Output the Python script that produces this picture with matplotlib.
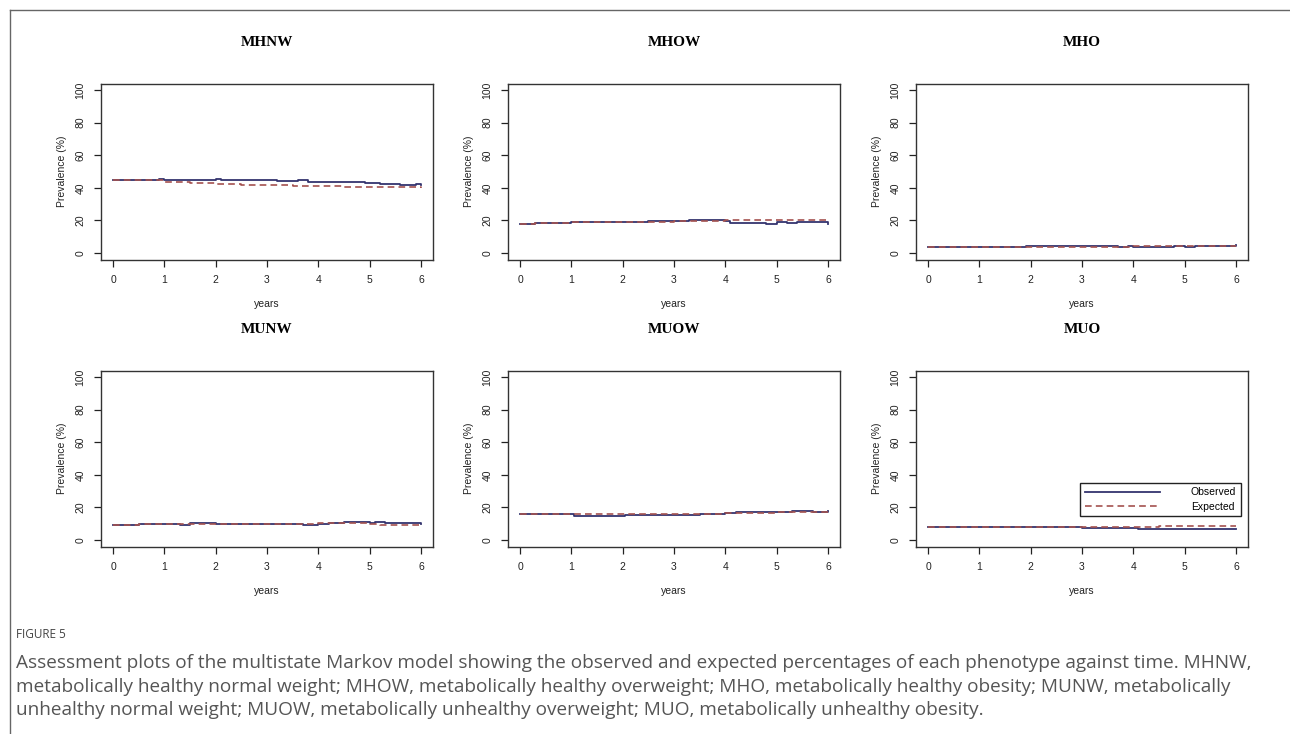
import matplotlib
matplotlib.use("Agg")
import matplotlib.pyplot as plt
from matplotlib.lines import Line2D

# ---- data ----
titles = ["MHNW", "MHOW", "MHO", "MUNW", "MUOW", "MUO"]

mhnw_obs_t = [0, 0.5, 0.7, 0.9, 1.0, 1.9, 2.0, 2.1, 2.2, 2.3, 3.0, 3.2, 3.6, 3.8, 4.0, 4.5, 4.9, 5.0, 5.2, 5.4, 5.6, 5.9, 6.0]
mhnw_obs_v = [45, 45, 44.5, 45.5, 45, 45, 45.5, 45, 44.5, 45, 44.8, 44, 44.5, 43.5, 43.5, 43.5, 43, 43.2, 42.5, 42.5, 42, 42.5, 42]
mhnw_exp_t = [0, 0.5, 1.0, 1.5, 2.0, 2.5, 3.0, 3.5, 4.0, 4.5, 5.0, 6.0]
mhnw_exp_v = [45, 44.5, 43.5, 43, 42.5, 42, 41.5, 41, 41, 40.5, 40.2, 40]

mhow_obs_t = [0, 0.3, 1.0, 2.0, 2.5, 3.0, 3.3, 3.8, 4.0, 4.1, 4.5, 4.8, 5.0, 5.2, 5.4, 5.9, 6.0]
mhow_obs_v = [18, 18.5, 19, 19.3, 19.6, 19.8, 20, 20.5, 19.5, 18.5, 18.5, 18, 18.8, 18.2, 18.8, 18.8, 17.5]
mhow_exp_t = [0, 0.3, 1.0, 2.0, 3.0, 4.0, 5.0, 6.0]
mhow_exp_v = [18, 18.5, 19, 19.3, 19.8, 20, 20.3, 20.5]

mho_obs_t = [0, 1.0, 1.9, 3.7, 3.9, 4.0, 4.8, 5.0, 5.2, 6.0]
mho_obs_v = [3.5, 3.8, 4.0, 3.8, 4.3, 3.8, 4.3, 3.6, 4.3, 4.8]
mho_exp_t = [0, 1.0, 2.0, 3.0, 4.0, 5.0, 6.0]
mho_exp_v = [3.5, 3.7, 3.8, 3.9, 4.0, 4.2, 4.3]

munw_obs_t = [0, 0.5, 1.0, 1.3, 1.5, 2.0, 3.0, 3.7, 4.0, 4.2, 4.5, 5.0, 5.1, 5.3, 5.9, 6.0]
munw_obs_v = [9.5, 9.8, 10, 9.5, 10.2, 9.8, 9.8, 9.2, 10, 10.5, 11, 10.5, 11, 10.5, 10.5, 10]
munw_exp_t = [0, 0.5, 1.0, 2.0, 3.0, 4.0, 5.0, 5.2, 6.0]
munw_exp_v = [9.5, 10, 10, 9.8, 9.8, 10.2, 9.8, 9.5, 9.5]

muow_obs_t = [0, 1.05, 2.0, 2.05, 3.0, 3.5, 3.9, 4.0, 4.2, 5.0, 5.3, 5.7, 6.0]
muow_obs_v = [16, 15, 14.5, 15.2, 15.5, 16, 16.2, 16.5, 17, 17.2, 17.8, 17.3, 17.8]
muow_exp_t = [0, 1.0, 2.0, 3.0, 4.0, 5.0, 6.0]
muow_exp_v = [16, 16, 16.2, 16.2, 16.5, 17, 17.5]

muo_obs_t = [0, 0.3, 0.8, 1.0, 2.0, 3.0, 4.0, 4.1, 5.0, 5.1, 6.0]
muo_obs_v = [8.2, 7.8, 8, 7.8, 7.8, 7.5, 7.2, 6.8, 6.5, 7.0, 7.0]
muo_exp_t = [0, 1.0, 2.0, 3.0, 4.0, 4.5, 5.0, 6.0]
muo_exp_v = [8.2, 8.2, 8.2, 8.2, 8.0, 8.5, 8.8, 8.8]

observed = [(mhnw_obs_t, mhnw_obs_v), (mhow_obs_t, mhow_obs_v), (mho_obs_t, mho_obs_v),
            (munw_obs_t, munw_obs_v), (muow_obs_t, muow_obs_v), (muo_obs_t, muo_obs_v)]
expected = [(mhnw_exp_t, mhnw_exp_v), (mhow_exp_t, mhow_exp_v), (mho_exp_t, mho_exp_v),
            (munw_exp_t, munw_exp_v), (muow_exp_t, muow_exp_v), (muo_exp_t, muo_exp_v)]

x_ticks = [0, 1, 2, 3, 4, 5, 6]
y_ticks = [0, 20, 40, 60, 80, 100]

caption_head = "FIGURE 5"
caption_body = ("Assessment plots of the multistate Markov model showing the observed and expected percentages of each phenotype against time. MHNW,\n"
                "metabolically healthy normal weight; MHOW, metabolically healthy overweight; MHO, metabolically healthy obesity; MUNW, metabolically\n"
                "unhealthy normal weight; MUOW, metabolically unhealthy overweight; MUO, metabolically unhealthy obesity.")

OBS_COLOR = "#34346e"
EXP_COLOR = "#a4524f"

W, H = 1290, 734
fig = plt.figure(figsize=(W / 100, H / 100), dpi=100)
fig.patch.set_facecolor("white")

lefts = [100.7, 507.7, 915.7]
tops = [83.5, 370.5]
aw, ah = 332.6, 176.0

for i in range(6):
    r, c = divmod(i, 3)
    ax = fig.add_axes([lefts[c] / W, 1 - (tops[r] + ah) / H, aw / W, ah / H])
    ot, ov = observed[i]
    et, ev = expected[i]
    ax.step(ot, ov, where="post", color=OBS_COLOR, lw=1.3, label="Observed")
    ax.step(et, ev, where="post", color=EXP_COLOR, lw=1.2, dashes=(4, 2.5), label="Expected")
    ax.set_xlim(-0.24, 6.24)
    ax.set_ylim(-4, 104)
    ax.set_xticks(x_ticks)
    ax.set_yticks(y_ticks)
    ax.set_yticklabels([str(v) for v in y_ticks], rotation=90, va="center")
    ax.tick_params(direction="out", length=5, width=0.9, labelsize=7.5, colors="#222222", pad=6)
    for s in ax.spines.values():
        s.set_linewidth(1.0)
        s.set_color("#333333")
    ax.set_xlabel("years", fontsize=7.5, family="Liberation Sans", labelpad=10, color="#222222")
    ax.set_ylabel("Prevalence (%)", fontsize=7.5, family="Liberation Sans", labelpad=6, color="#222222")
    for lab in ax.get_xticklabels() + ax.get_yticklabels():
        lab.set_family("Liberation Sans")
    ax.set_title(titles[i], fontsize=11, family="Liberation Serif", fontweight="bold", pad=27)
    if i == 5:
        h = [Line2D([], [], color=OBS_COLOR, lw=1.3),
             Line2D([], [], color=EXP_COLOR, lw=1.2, dashes=(4, 2.5))]
        leg = ax.legend(h, ["Observed", "Expected"], loc="upper right",
                        bbox_to_anchor=(0.978, 0.362), borderaxespad=0,
                        fancybox=False, framealpha=1, edgecolor="#222222",
                        prop={"family": "Liberation Sans", "size": 7.5},
                        handlelength=7.2, handletextpad=3.0, borderpad=0.45,
                        labelspacing=0.4)
        leg.get_frame().set_linewidth(1.0)

# frame lines around figure panel
fig.add_artist(Line2D([10 / W, 10 / W], [0, 1 - 10 / H], color="#666666", lw=1.0, transform=fig.transFigure))
fig.add_artist(Line2D([10 / W, 1], [1 - 10 / H, 1 - 10 / H], color="#666666", lw=1.0, transform=fig.transFigure))

fig.text(16 / W, 1 - 635 / H, caption_head, fontsize=8.5, family="Open Sans", color="#444444", va="center")
fig.text(16 / W, 1 - 654 / H, caption_body, fontsize=13.7, family="Open Sans", color="#555555",
         va="top", linespacing=1.4)

fig.savefig("out.png", dpi=100, facecolor="white")
